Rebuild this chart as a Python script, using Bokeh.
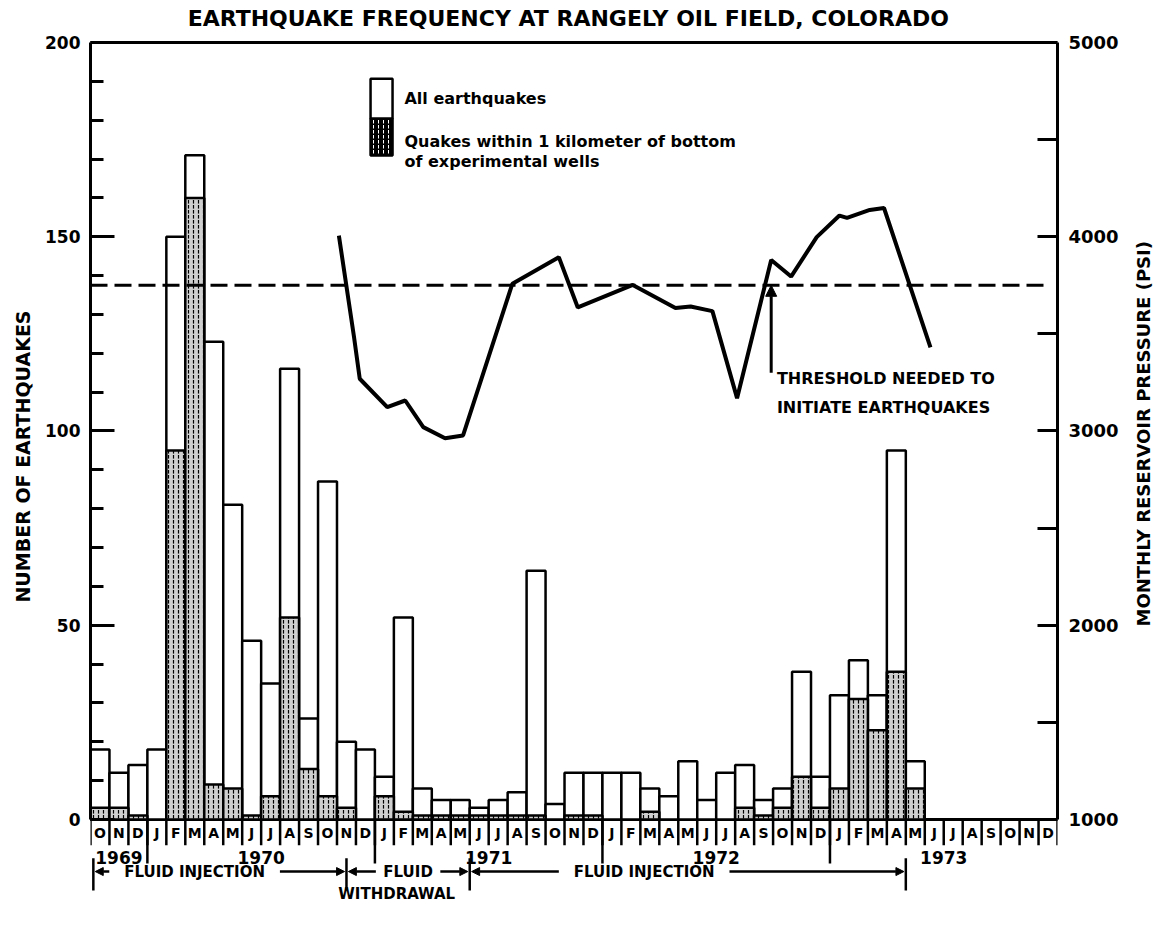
import math
from bokeh.plotting import figure
from bokeh.layouts import row
from bokeh.models import Range1d, LinearAxis, FixedTicker, Label, Arrow, NormalHead
from bokeh.core.properties import value
from bokeh.embed import file_html
from bokeh.resources import INLINE

# ---------------- data ----------------
months = ["O", "N", "D"] + ["J", "F", "M", "A", "M", "J", "J", "A", "S", "O", "N", "D"] * 4
years = ["1969", "1970", "1971", "1972", "1973"]
year_first_month = [0, 3, 15, 27, 39, 51]

all_quakes = [18, 12, 14,
              18, 150, 171, 123, 81, 46, 35, 116, 26, 87, 20, 18,
              11, 52, 8, 5, 5, 3, 5, 7, 64, 4, 12, 12,
              12, 12, 8, 6, 15, 5, 12, 14, 5, 8, 38, 11,
              32, 41, 32, 95, 15, 0, 0, 0, 0, 0, 0, 0]
near_wells = [3, 3, 1,
              0, 95, 160, 9, 8, 1, 6, 52, 13, 6, 3, 0,
              6, 2, 1, 1, 1, 1, 1, 1, 1, 0, 1, 1,
              0, 0, 2, 0, 0, 0, 0, 3, 1, 3, 11, 3,
              8, 31, 23, 38, 8, 0, 0, 0, 0, 0, 0, 0]

# monthly reservoir pressure (month index counted from Oct 1969, psi)
pressure_month = [13.1, 13.9, 14.2, 15.65, 16.6, 17.55, 18.7, 19.65, 22.25, 24.7, 25.7,
                  28.6, 30.85, 31.65, 32.8, 34.1, 35.9, 36.95, 38.3, 39.5, 39.9, 41.1,
                  41.85, 44.3]
pressure_psi = [4006, 3483, 3269, 3123, 3157, 3020, 2963, 2977, 3758, 3895, 3636,
                3752, 3633, 3641, 3617, 3169, 3880, 3795, 3998, 4109, 4097, 4138,
                4148, 3431]
threshold_psi = 3750

phase_names = ["FLUID INJECTION", "FLUID", "FLUID INJECTION"]
phase_start = [0.15, 13.5, 20.0]
phase_end = [13.5, 20.0, 43.0]

# ---------------- figure ----------------
FONT = "DejaVu Sans"
N = len(months)
Y0, Y1 = -23.94, 210.81         # frame also holds the title and the rows under the axis
P0, P1 = 1000 + Y0 * 20, 1000 + Y1 * 20
H = 914

p = figure(width=1126, height=H, output_backend="svg", toolbar_location=None,
           x_range=Range1d(0, N), y_range=Range1d(Y0, Y1), x_axis_location=None,
           min_border_left=90, min_border_right=69, min_border_top=0, min_border_bottom=2)
p.extra_y_ranges = {"psi": Range1d(P0, P1)}
p.grid.visible = False
p.outline_line_color = None
p.background_fill_color = "white"
p.border_fill_color = "white"

# left axis
ya = p.yaxis[0]
ya.bounds = (0, 200)
ya.ticker = FixedTicker(ticks=[0, 50, 100, 150, 200], minor_ticks=list(range(0, 201, 10)))
ya.major_tick_in = 24
ya.major_tick_out = 0
ya.minor_tick_in = 13
ya.minor_tick_out = 0
ya.major_tick_line_width = 3
ya.minor_tick_line_width = 3
ya.axis_line_width = 3
ya.major_label_standoff = 10
ya.major_label_text_font = FONT
ya.major_label_text_font_style = "bold"
ya.major_label_text_font_size = "17px"
ya.major_label_text_color = "black"
ya.axis_label = "NUMBER OF EARTHQUAKES"
ya.axis_label_text_font = FONT
ya.axis_label_text_font_style = "bold"
ya.axis_label_text_font_size = "19px"
ya.axis_label_text_color = "black"
ya.axis_label_standoff = 8

# right axis (its title is drawn in the narrow strip at the right)
ra = LinearAxis(y_range_name="psi", bounds=(1000, 5000),
                ticker=FixedTicker(ticks=[1000, 2000, 3000, 4000, 5000],
                                   minor_ticks=[1500, 2500, 3500, 4500]))
ra.major_tick_in = 20
ra.major_tick_out = 0
ra.minor_tick_in = 20
ra.minor_tick_out = 0
ra.major_tick_line_width = 3
ra.minor_tick_line_width = 3
ra.axis_line_width = 3
ra.major_label_standoff = 11
ra.major_label_text_font = FONT
ra.major_label_text_font_style = "bold"
ra.major_label_text_font_size = "18px"
ra.major_label_text_color = "black"
p.add_layout(ra, "right")

# frame lines (top border and the zero line)
p.line(x=[0, N], y=[200, 200], line_color="black", line_width=3)
p.line(x=[0, N], y=[0, 0], line_color="black", line_width=3)

# ---------------- month row under the axis ----------------
centers = [i + 0.5 for i in range(N)]
p.text(x=centers, y=[-3.35] * N, text=months, text_font=value(FONT),
       text_font_style="bold", text_font_size="14px", text_align="center",
       text_baseline="middle", text_color="black")
p.segment(x0=list(range(N + 1)), y0=[0] * (N + 1), x1=list(range(N + 1)), y1=[-6.6] * (N + 1),
          line_color="black", line_width=2.5)

# ---------------- bars ----------------
idx = [i for i in range(N) if all_quakes[i] > 0]
p.vbar(x=[centers[i] for i in idx], width=1, bottom=0, top=[all_quakes[i] for i in idx],
       fill_color="white", line_color="black", line_width=2.5)
idx2 = [i for i in range(N) if near_wells[i] > 0]
p.vbar(x=[centers[i] for i in idx2], width=1, bottom=0, top=[near_wells[i] for i in idx2],
       fill_color="#cfcfcf", line_color="black", line_width=2.5,
       hatch_pattern=":", hatch_color="black", hatch_scale=5, hatch_weight=1.2)

# ---------------- pressure & threshold ----------------
p.line(x=[0, N - 0.5], y=[threshold_psi, threshold_psi], y_range_name="psi",
       line_color="black", line_width=3, line_dash="17 7")
p.line(x=pressure_month, y=pressure_psi, y_range_name="psi",
       line_color="black", line_width=4)

p.add_layout(Arrow(end=NormalHead(size=11, fill_color="black", line_color="black"),
                   x_start=35.9, y_start=3300, x_end=35.9, y_end=threshold_psi,
                   y_range_name="psi", line_width=3, line_color="black"))


def lab(fig, text, x, y, size, align="left", y_range_name="default", angle=0):
    fig.add_layout(Label(x=x, y=y, text=text, text_font=FONT, text_font_style="bold",
                         text_font_size=size, text_align=align, text_baseline="middle",
                         angle=angle, angle_units="deg",
                         y_range_name=y_range_name, text_color="black"))


lab(p, "THRESHOLD NEEDED TO", 36.2, 113.5, "16px")
lab(p, "INITIATE EARTHQUAKES", 36.2, 106.0, "16px")

# ---------------- legend ----------------
p.quad(left=[14.77], right=[15.93], top=[190.7], bottom=[180.4],
       fill_color="white", line_color="black", line_width=2.5)
p.quad(left=[14.77], right=[15.93], top=[180.4], bottom=[170.9],
       fill_color="black", line_color="black", line_width=2.5,
       hatch_pattern=":", hatch_color="white", hatch_scale=5, hatch_weight=1)
lab(p, "All earthquakes", 16.56, 185.6, "16px")
lab(p, "Quakes within 1 kilometer of bottom", 16.56, 174.5, "16px")
lab(p, "of experimental wells", 16.56, 169.4, "16px")

# ---------------- title ----------------
lab(p, "EARTHQUAKE FREQUENCY AT RANGELY OIL FIELD, COLORADO", 25.2, 206.2, "22px", align="center")

# ---------------- years and phases ----------------
for k, yr in enumerate(years):
    lab(p, yr, (year_first_month[k] + year_first_month[k + 1]) / 2.0, -9.8, "17px", align="center")
yb = year_first_month[1:-1]
p.segment(x0=yb, y0=[0] * len(yb), x1=yb, y1=[-11.3] * len(yb),
          line_color="black", line_width=2.5)

pb = [phase_start[0]] + phase_end
p.segment(x0=pb, y0=[-10.0] * len(pb), x1=pb, y1=[-18.3] * len(pb),
          line_color="black", line_width=2.5)

text_half = {"FLUID INJECTION": 4.25, "FLUID": 1.45}
for name, s0, s1 in zip(phase_names, phase_start, phase_end):
    if name == "FLUID":
        c = (s0 + s1) / 2.0
    else:
        c = s0 + (s1 - s0) * 0.4
    lab(p, name, c, -13.4, "15px", align="center")
    hw = text_half[name] + 0.25
    for a, b in [(c - hw, s0 + 0.1), (c + hw, s1 - 0.1)]:
        p.add_layout(Arrow(end=NormalHead(size=8, fill_color="black", line_color="black"),
                           x_start=a, y_start=-13.4, x_end=b, y_end=-13.4,
                           line_width=2.5, line_color="black"))
lab(p, "WITHDRAWAL", (phase_start[1] + phase_end[1]) / 2.0 - 0.6, -19.05, "15px", align="center")

# ---------------- right-hand axis title strip ----------------
W2 = 1164 - 1126
q = figure(width=W2, height=H, output_backend="svg", toolbar_location=None,
           x_range=Range1d(0, W2), y_range=Range1d(Y0, Y1),
           x_axis_location=None, y_axis_location=None,
           min_border_left=0, min_border_right=0, min_border_top=0, min_border_bottom=2)
q.grid.visible = False
q.outline_line_color = None
q.background_fill_color = "white"
q.border_fill_color = "white"
lab(q, "MONTHLY RESERVOIR PRESSURE  (PSI)", 17, 100.1, "18px", align="center", angle=90)

layout = row(p, q, spacing=0)
open("out.html", "w").write(file_html(layout, INLINE))
